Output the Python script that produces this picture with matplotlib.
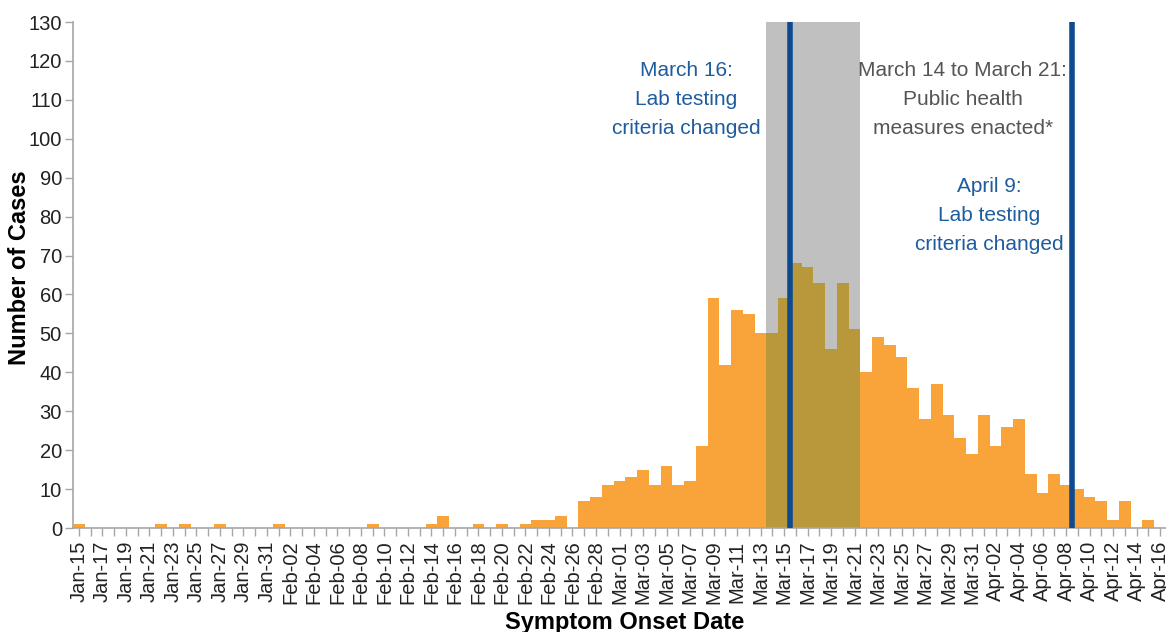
import matplotlib
matplotlib.use("Agg")
import matplotlib.pyplot as plt
import pandas as pd
import numpy as np

plt.rcParams['font.family'] = ['Liberation Sans', 'DejaVu Sans']

# ---- data ----
dates = pd.date_range("2020-01-15", "2020-04-16", freq="D")
labels = [d.strftime("%b-%d") for d in dates]

jan_cases = [1, 0, 0, 0, 0, 0, 0, 1, 0, 1, 0, 0, 1, 0, 0, 0, 0]
feb_cases = [1, 0, 0, 0, 0, 0, 0, 0, 1, 0, 0, 0, 0, 1, 3, 0, 0, 1, 0, 1,
             0, 1, 2, 2, 3, 0, 7, 8, 11]
mar_cases = [12, 13, 15, 11, 16, 11, 12, 21, 59, 42, 56, 55, 50, 50, 59, 68,
             67, 63, 46, 63, 51, 40, 49, 47, 44, 36, 28, 37, 29, 23, 19]
apr_cases = [29, 21, 26, 28, 14, 9, 14, 11, 10, 8, 7, 2, 7, 0, 2, 0]
cases = jan_cases + feb_cases + mar_cases + apr_cases

shade_start, shade_end = "Mar-14", "Mar-21"
event_dates = ["Mar-16", "Apr-09"]

# ---- style ----
ORANGE = "#f9a33b"
OLIVE = "#b9983c"
GRAY_SHADE = "#c0c0c0"
LINE_BLUE = "#0d4a8f"
TEXT_BLUE = "#1f5c9e"
TEXT_GRAY = "#555555"
AXIS_GRAY = "#a6a6a6"

fig = plt.figure(figsize=(11.66, 6.32), dpi=100)
ax = fig.add_axes([73 / 1166, 1 - 528 / 632, 1 - 73 / 1166, (528 - 22) / 632])

x = np.arange(len(cases))
i0 = labels.index(shade_start)
i1 = labels.index(shade_end)
colors = [OLIVE if i0 <= i <= i1 else ORANGE for i in x]

ax.axvspan(i0 - 0.5, i1 + 0.5, color=GRAY_SHADE, zorder=1, lw=0)
ax.bar(x, cases, width=1.0, color=colors, edgecolor="none", zorder=2)
for ev in event_dates:
    ax.axvline(labels.index(ev) - 0.5, color=LINE_BLUE, lw=4, zorder=3)

ax.set_xlim(-0.5, len(cases) - 0.5)
ax.set_ylim(0, 130)
ax.set_yticks(np.arange(0, 131, 10))
ax.set_xticks(x[::2])
ax.set_xticklabels(labels[::2], rotation=90, fontsize=14.5, color="#222222")
ax.set_xticks(x, minor=True)
ax.tick_params(axis="x", which="both", length=6, width=1, color=AXIS_GRAY, pad=3)
ax.tick_params(axis="y", length=6, width=1, color=AXIS_GRAY, labelsize=14.5,
               labelcolor="#222222", pad=2)

for s in ["top", "right"]:
    ax.spines[s].set_visible(False)
for s in ["left", "bottom"]:
    ax.spines[s].set_color(AXIS_GRAY)
    ax.spines[s].set_linewidth(1.2)

fig.text(20 / 1166, 1 - 268 / 632, "Number of Cases", rotation=90,
         fontsize=17, fontweight="bold", ha="center", va="center")
fig.text(625 / 1166, 1 - 623 / 632, "Symptom Onset Date",
         fontsize=17, fontweight="bold", ha="center", va="center")

ax.text(51.66, 110.1, "March 16:\nLab testing\ncriteria changed", color=TEXT_BLUE,
        fontsize=15, ha="center", va="center", linespacing=1.68, zorder=4)
ax.text(75.2, 110.1, "March 14 to March 21:\nPublic health\nmeasures enacted*",
        color=TEXT_GRAY, fontsize=15, ha="center", va="center",
        linespacing=1.68, zorder=4)
ax.text(77.45, 80.3, "April 9:\nLab testing\ncriteria changed", color=TEXT_BLUE,
        fontsize=15, ha="center", va="center", linespacing=1.68, zorder=4)

fig.savefig("out.png", dpi=100)
